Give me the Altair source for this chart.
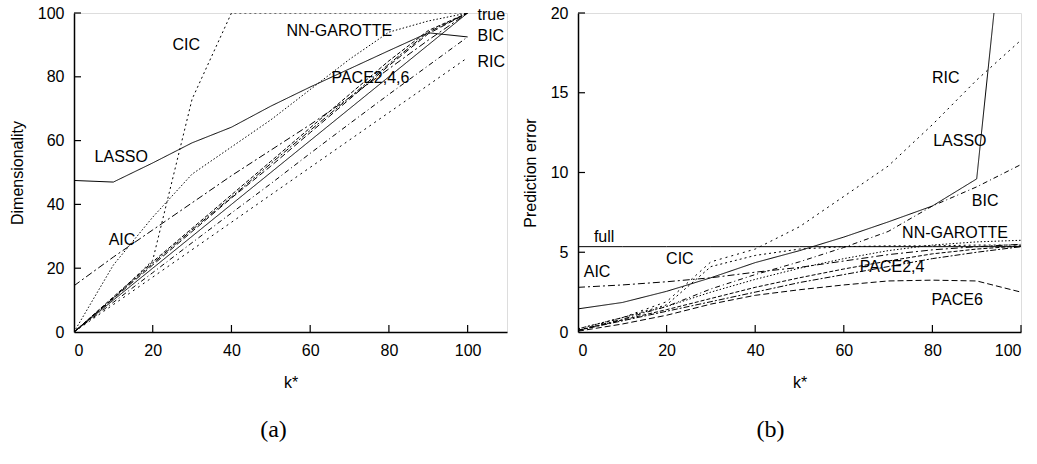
import altair as alt
import pandas as pd

K = [0, 10, 20, 30, 40, 50, 60, 70, 80, 90, 100]

# ---- panel (a): Dimensionality ----
a_true = [0, 10, 20, 30, 40, 50, 60, 70, 80, 90, 100]
a_lasso = [47.5, 47, 53, 59.3, 64.2, 70.8, 76.8, 82.5, 88.2, 93.8, 92.5]
a_cic = [0, 10.5, 22.5, 73, 100, 100, 100, 100, 100, 100, 100]
a_nng = [0, 21, 36, 49.5, 58, 66.5, 76, 85.5, 94, 97.5, 100]
a_aic = [14.5, 23.5, 32, 40.5, 49, 57, 65, 73.5, 82.5, 91.5, 100]
a_bic = [0, 9.3, 18.6, 28, 37.3, 46.5, 56, 65.3, 74.5, 83.5, 92.5]
a_ric = [0, 8.6, 17.2, 25.8, 34.4, 43, 51.6, 60.2, 68.8, 77.4, 86]
a_pace2 = [0, 11, 22, 32.5, 43, 53.5, 64, 74.5, 85, 94.5, 100]
a_pace4 = [0, 10.7, 21.5, 32, 42.3, 52.8, 63.2, 73.5, 84, 94, 100]
a_pace6 = [0, 10.5, 21, 31.5, 42, 52, 62.5, 73, 83.5, 93.5, 100]

# ---- panel (b): Prediction error ----
b_full = [5.35, 5.35, 5.35, 5.35, 5.35, 5.35, 5.35, 5.35, 5.35, 5.35, 5.35]
b_lasso = [1.45, 1.85, 2.55, 3.4, 4.35, 5.1, 5.95, 6.9, 7.9, 9.6, 36.3]
b_ric = [0.1, 0.9, 1.9, 4.4, 5.2, 6.6, 8.5, 10.4, 13.0, 15.8, 18.3]
b_cic = [0.2, 0.9, 1.7, 4.1, 4.8, 5.2, 5.35, 5.4, 5.4, 5.45, 5.45]
b_nng = [0.2, 0.9, 1.6, 2.5, 3.3, 4.0, 4.6, 5.1, 5.45, 5.65, 5.75]
b_aic = [2.8, 2.95, 3.15, 3.4, 3.75, 4.05, 4.45, 4.85, 5.15, 5.35, 5.5]
b_bic = [0.1, 0.8, 1.6, 2.7, 3.6, 4.4, 5.3, 6.3, 7.9, 9.1, 10.5]
b_pace2 = [0.1, 0.75, 1.4, 2.1, 2.8, 3.4, 3.95, 4.45, 4.9, 5.2, 5.4]
b_pace4 = [0.1, 0.7, 1.3, 1.9, 2.5, 3.1, 3.6, 4.1, 4.6, 5.0, 5.35]
b_pace6 = [0.05, 0.5, 1.05, 1.75, 2.3, 2.65, 2.95, 3.2, 3.25, 3.2, 2.5]

# labels
a_lab_text = ["CIC", "NN-GAROTTE", "PACE2,4,6", "LASSO", "AIC"]
a_lab_k = [28.5, 67.4, 75.3, 12, 12.2]
a_lab_v = [90, 94.4, 79.6, 54.9, 28.8]
a_rlab_text = ["true", "BIC", "RIC"]
a_rlab_k = [102.5, 102.5, 102.5]
a_rlab_v = [99.4, 92.8, 84.6]

b_lab_text = ["full", "AIC", "CIC", "RIC", "LASSO", "BIC", "NN-GAROTTE", "PACE2,4", "PACE6"]
b_lab_k = [5.9, 4.3, 23, 83, 86.2, 91.9, 85.1, 70.9, 85.6]
b_lab_v = [5.96, 3.76, 4.58, 15.9, 12.0, 8.2, 6.2, 4.08, 2.0]

a_xticks = [0, 20, 40, 60, 80, 100]
a_yticks = [0, 20, 40, 60, 80, 100]
b_xticks = [0, 20, 40, 60, 80, 100]
b_yticks = [0, 5, 10, 15, 20]

dash_domain = ["true", "LASSO", "full", "CIC", "NN-GAROTTE", "RIC", "AIC", "BIC", "PACE2", "PACE4", "PACE6"]
dash_range = [[1, 0], [1, 0], [1, 0], [2, 3], [1.5, 2], [2, 4], [7, 3, 2, 3], [5, 3, 1, 3], [4, 2], [6, 2, 2, 2], [6, 3]]


def long(series):
    rows = []
    for name, vals in series.items():
        for k, v in zip(K, vals):
            rows.append({"k": k, "v": v, "s": name})
    return pd.DataFrame(rows)


df_a = long({"true": a_true, "LASSO": a_lasso, "CIC": a_cic, "NN-GAROTTE": a_nng,
             "AIC": a_aic, "BIC": a_bic, "RIC": a_ric,
             "PACE2": a_pace2, "PACE4": a_pace4, "PACE6": a_pace6})
df_b = long({"full": b_full, "LASSO": b_lasso, "RIC": b_ric, "CIC": b_cic,
             "NN-GAROTTE": b_nng, "AIC": b_aic, "BIC": b_bic,
             "PACE2": b_pace2, "PACE4": b_pace4, "PACE6": b_pace6})

FONT = "Liberation Sans"
FS = 16
H = 319


def panel(df, xdom, ydom, xt, yt, xtitle, ytitle, labs, rlabs, W, title, dx):
    xs = alt.Scale(domain=xdom, nice=False, zero=False)
    ys = alt.Scale(domain=ydom, nice=False)
    xaxis = alt.Axis(values=xt, title=xtitle, grid=False, tickSize=0, labelPadding=10,
                     titlePadding=16, domainWidth=1.5, domainColor="black",
                     labelFont=FONT, labelFontSize=FS, labelColor="black",
                     titleFont=FONT, titleFontSize=FS, titleFontWeight="normal", titleColor="black")
    yaxis = alt.Axis(values=yt, title=ytitle, grid=False, tickSize=0, labelPadding=10,
                     titlePadding=12, domainWidth=1.5, domainColor="black",
                     labelFont=FONT, labelFontSize=FS, labelColor="black",
                     titleFont=FONT, titleFontSize=FS, titleFontWeight="normal", titleColor="black")
    X = alt.X("k:Q", scale=xs, axis=xaxis, title=xtitle)
    Y = alt.Y("v:Q", scale=ys, axis=yaxis, title=ytitle)
    lines = alt.Chart(df).mark_line(color="black", strokeWidth=1, clip=True).encode(
        x=X, y=Y,
        strokeDash=alt.StrokeDash("s:N", scale=alt.Scale(domain=dash_domain, range=dash_range), legend=None),
        detail="s:N",
    )
    xtdf = pd.DataFrame({"k": [t for t in xt if t != 0]})
    ytdf = pd.DataFrame({"v": [t for t in yt if t != 0]})
    xtick = alt.Chart(xtdf).mark_rule(color="black", strokeWidth=1.2).encode(
        x=X, y=alt.value(H), y2=alt.value(H - 7))
    ytick = alt.Chart(ytdf).mark_rule(color="black", strokeWidth=1.2).encode(
        y=Y, x=alt.value(0), x2=alt.value(7))
    layers = [lines, xtick, ytick]
    t, k, v = labs
    ldf = pd.DataFrame({"t": t, "k": k, "v": v})
    layers.append(alt.Chart(ldf).mark_text(font=FONT, fontSize=FS, color="black", align="center",
                                            baseline="middle").encode(x=X, y=Y, text="t:N"))
    if rlabs is not None:
        t, k, v = rlabs
        rdf = pd.DataFrame({"t": t, "k": k, "v": v})
        layers.append(alt.Chart(rdf).mark_text(font=FONT, fontSize=FS, color="black", align="left",
                                                baseline="middle").encode(x=X, y=Y, text="t:N"))
    return alt.layer(*layers).properties(
        width=W, height=H,
        title=alt.TitleParams(title, orient="bottom", font="Liberation Serif", fontSize=24,
                              fontWeight="normal", color="black", offset=28, anchor="middle", dx=dx))


pa = panel(df_a, [0, 110], [0, 100], a_xticks, a_yticks, "k*", "Dimensionality",
           (a_lab_text, a_lab_k, a_lab_v), (a_rlab_text, a_rlab_k, a_rlab_v), 433, "(a)", -17)
pb = panel(df_b, [0, 100], [0, 20], b_xticks, b_yticks, "k*", "Prediction error",
           (b_lab_text, b_lab_k, b_lab_v), None, 443, "(b)", -29)

chart = alt.hconcat(pa, pb, spacing=13).properties(
    padding={"left": 8, "top": 4, "right": 5, "bottom": 5}
).configure_view(stroke=None).configure(background="white")

chart.save("out.html", embed_options={"renderer": "svg", "actions": False})
